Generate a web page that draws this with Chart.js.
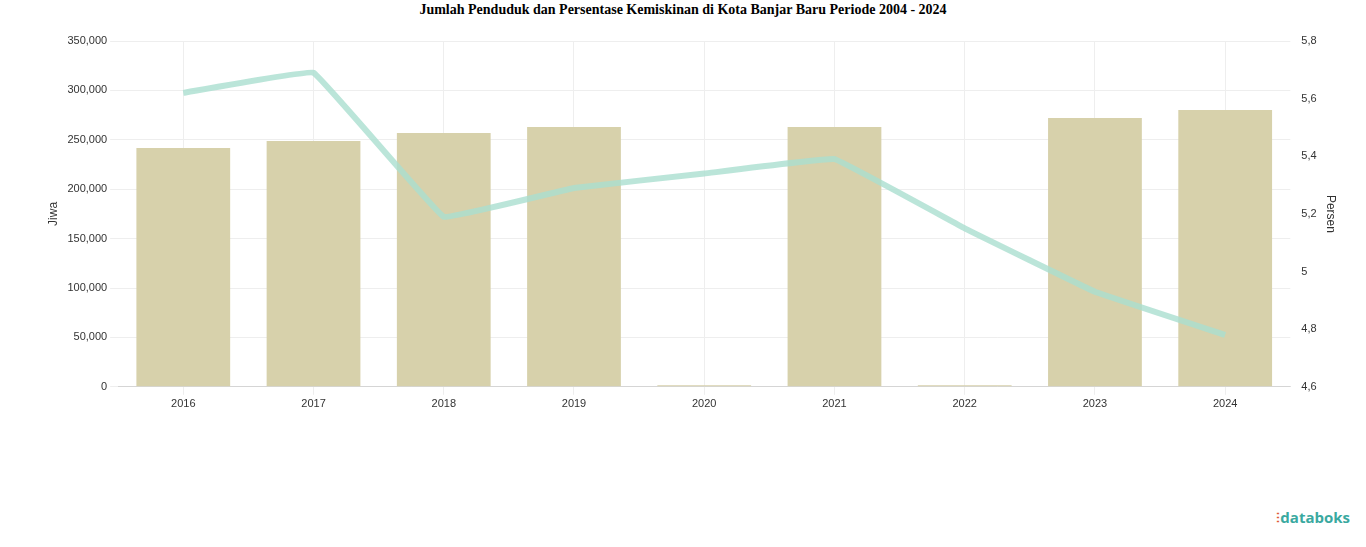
<!DOCTYPE html>
<html lang="id">
<head>
<meta charset="UTF-8">
<title>Jumlah Penduduk dan Persentase Kemiskinan</title>
<script src="https://cdn.jsdelivr.net/npm/chart.js"></script>
<style>
  body { margin: 0; background: #fff; font-family: "Liberation Serif", serif; }
  h1 { margin: 0; padding-top: 2px; text-align: center; font-size: 14px; font-weight: bold; height: 24px; }
  #wrap { position: absolute; left: 0; top: 24px; width: 1366px; height: 392px; }
  .logo { position: absolute; right: 16px; bottom: 20px; font: bold 15px "Open Sans", sans-serif; color: #3aa9a0; }
  .logo span { color: #e05a3a; }
</style>
</head>
<body>
<h1>Jumlah Penduduk dan Persentase Kemiskinan di Kota Banjar Baru Periode 2004 - 2024</h1>
<div id="wrap"><canvas id="chart"></canvas></div>
<div class="logo"><span>⫶</span>databoks</div>
<script>
  const years = ['2016', '2017', '2018', '2019', '2020', '2021', '2022', '2023', '2024'];
  const penduduk = [241800, 248800, 256900, 263000, 1500, 263000, 1500, 272000, 280200];
  const kemiskinan = [5.62, 5.69, 5.19, 5.29, 5.34, 5.39, 5.15, 4.93, 4.78];

  new Chart(document.getElementById('chart'), {
    data: {
      labels: years,
      datasets: [
        { type: 'line', label: 'Persentase Kemiskinan', data: kemiskinan, yAxisID: 'y1',
          borderColor: 'rgba(170,222,208,0.8)', borderWidth: 6, pointRadius: 0, tension: 0.05, order: 0 },
        { type: 'bar', label: 'Jumlah Penduduk', data: penduduk, yAxisID: 'y',
          backgroundColor: '#d7d1ab', categoryPercentage: 0.9, barPercentage: 0.8, order: 1 }
      ]
    },
    options: {
      responsive: true, maintainAspectRatio: false, animation: false,
      layout: { padding: { top: 17, left: 42, right: 24, bottom: 2 } },
      plugins: { legend: { display: false } },
      scales: {
        x: { grid: { color: '#eee', offset: false }, ticks: { color: '#333', font: { size: 11 } } },
        y: { min: 0, max: 350000, ticks: { stepSize: 50000, color: '#333', font: { size: 11 },
               callback: v => v.toLocaleString('en-US') },
             grid: { color: '#eee' }, border: { display: false },
             title: { display: true, text: 'Jiwa', color: '#333' } },
        y1: { position: 'right', min: 4.6, max: 5.8, ticks: { stepSize: 0.2, color: '#333', font: { size: 11 },
               callback: v => String(Math.round(v * 10) / 10).replace('.', ',') },
              grid: { display: false }, border: { display: false },
              title: { display: true, text: 'Persen', color: '#333' } }
      }
    }
  });
</script>
</body>
</html>
